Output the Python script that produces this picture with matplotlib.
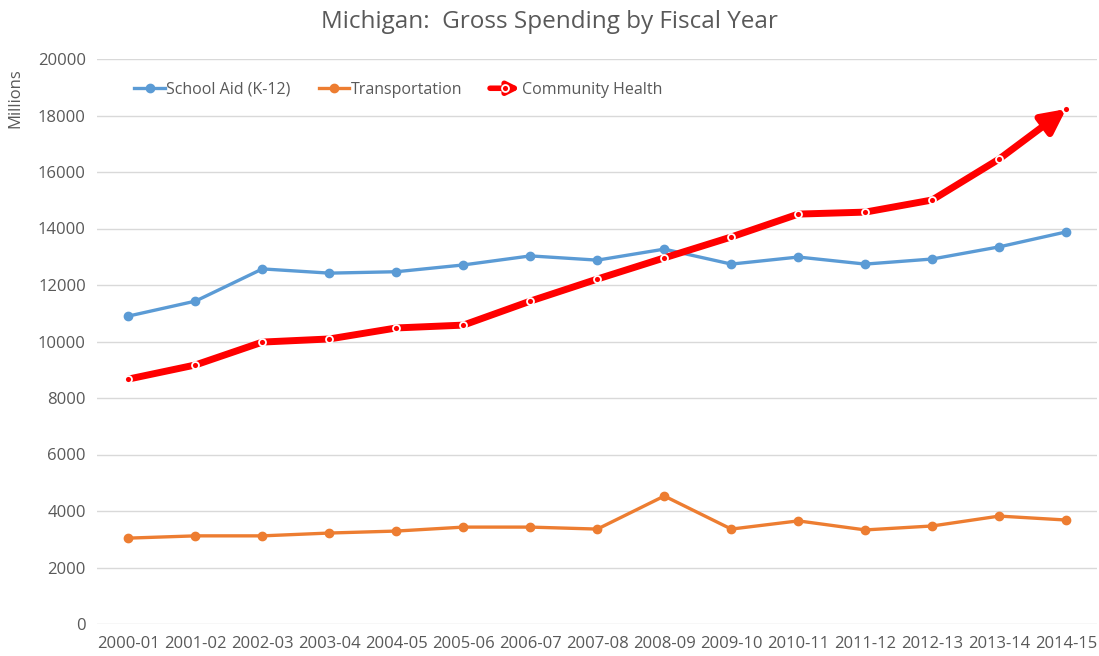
import numpy as np
import matplotlib.pyplot as plt
from matplotlib.patches import FancyArrowPatch
from matplotlib.lines import Line2D

plt.rcParams['font.family'] = ['Open Sans', 'DejaVu Sans']

# Данные
years = ['2000-01', '2001-02', '2002-03', '2003-04', '2004-05', '2005-06', '2006-07', '2007-08',
         '2008-09', '2009-10', '2010-11', '2011-12', '2012-13', '2013-14', '2014-15']
school_aid = [10900, 11430, 12570, 12420, 12470, 12710, 13030, 12880,
              13270, 12740, 12990, 12740, 12920, 13350, 13880]
transportation = [3040, 3120, 3120, 3220, 3290, 3430, 3430, 3360,
                  4530, 3360, 3650, 3330, 3470, 3820, 3680]
community_health = [8670, 9170, 9980, 10090, 10480, 10580, 11430, 12210,
                    12960, 13700, 14510, 14580, 15010, 16460, 18230]

BLUE = '#5B9BD5'
ORANGE = '#ED7D31'
RED = '#FF0000'
GREY = '#595959'

x = np.arange(len(years))

fig = plt.figure(figsize=(10.99, 6.56), dpi=100)
ax = fig.add_axes([97/1099, 32/656, 1000/1099, 565/656])

ax.plot(x, school_aid, color=BLUE, lw=2.4, marker='o', ms=6, zorder=3)
ax.plot(x, transportation, color=ORANGE, lw=2.4, marker='o', ms=6, zorder=3)

# красная линия со стрелкой на конце
ax.plot(x[:-1], community_health[:-1], color=RED, lw=5, solid_capstyle='butt', zorder=4)
arr = FancyArrowPatch((x[-2], community_health[-2]), (x[-1], community_health[-1]),
                      arrowstyle='-|>', mutation_scale=36, lw=5, color=RED,
                      shrinkA=0, shrinkB=0, zorder=4)
ax.add_patch(arr)
ax.plot(x, community_health, ls='none', marker='o', ms=5, mfc=RED, mec='white', mew=1.3, zorder=5)

ax.set_xlim(-0.47, 14.46)
ax.set_ylim(0, 20000)
ax.set_yticks(range(0, 20001, 2000))
ax.set_xticks(x)
ax.set_xticklabels(years)
ax.grid(axis='y', color='#D9D9D9', lw=1)
ax.set_axisbelow(True)
for s in ax.spines.values():
    s.set_visible(False)
ax.tick_params(length=0, labelsize=12, colors=GREY, pad=8)
ax.tick_params(axis='x', pad=9)

fig.text(0.5, 1 - 22/656, 'Michigan:  Gross Spending by Fiscal Year', ha='center', va='center',
         fontsize=17.5, color=GREY)
fig.text(15/1099, 1 - 98/656, 'Millions', rotation=90, ha='center', va='center',
         fontsize=12, color=GREY)


# легенда: для Community Health рисуем стрелку
class ArrowHandler:
    def legend_artist(self, legend, orig_handle, fontsize, handlebox):
        x0, y0 = handlebox.xdescent, handlebox.ydescent
        w, h = handlebox.width, handlebox.height
        a = FancyArrowPatch((x0, y0 + h / 2), (x0 + w, y0 + h / 2), arrowstyle='-|>',
                            mutation_scale=18, lw=4, color=RED, shrinkA=0, shrinkB=0,
                            transform=handlebox.get_transform())
        handlebox.add_artist(a)
        m = Line2D([x0 + w / 2], [y0 + h / 2], ls='none', marker='o', ms=5, mfc=RED,
                   mec='white', mew=1.3, transform=handlebox.get_transform())
        handlebox.add_artist(m)
        return a


h1 = Line2D([], [], color=BLUE, lw=2.4, marker='o', ms=6)
h2 = Line2D([], [], color=ORANGE, lw=2.4, marker='o', ms=6)
h3 = object()
leg = ax.legend([h1, h2, h3], ['School Aid (K-12)', 'Transportation', 'Community Health'],
                handler_map={object: ArrowHandler()}, loc='upper left', ncol=3, frameon=False,
                bbox_to_anchor=(0.023, 0.985), fontsize=11.5, handlelength=1.9, handletextpad=0.1,
                columnspacing=1.75, labelcolor=GREY)

fig.savefig('out.png', dpi=100)
